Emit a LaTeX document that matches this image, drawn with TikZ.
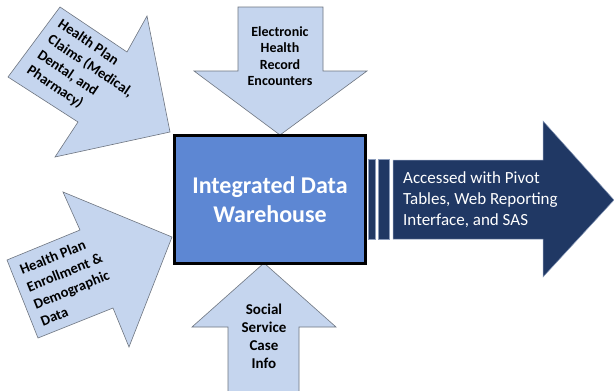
\documentclass[tikz,border=0pt]{standalone}
\usepackage{fontspec}
\setmainfont{Carlito}
\begin{document}
\begin{tikzpicture}[x=1pt,y=-1pt,
  inarrow/.style={fill=lightblue,draw=edgegray,line width=0.6pt,line join=miter},
  intext/.style={font=\bfseries\fontsize{14}{16.5}\selectfont,align=center,text=black,inner sep=0pt},
  slanttext/.style={font=\bfseries\fontsize{14.5}{18.5}\selectfont,align=left,text=black,inner sep=0pt}]
\definecolor{lightblue}{HTML}{C5D5EE}
\definecolor{edgegray}{HTML}{6E7580}
\definecolor{boxblue}{HTML}{5D87D3}
\definecolor{navy}{HTML}{203864}
\definecolor{baredge}{HTML}{8A9BBA}
\useasboundingbox (0,0) rectangle (614,391);
\fill[white] (0,0) rectangle (614,391);
% top-left arrow
\draw[inarrow] (60,7) -- (127,52) -- (147,16) -- (170,132) -- (55,157) -- (78,122) -- (8,77) -- cycle;
\node[slanttext,rotate=-34] (claims) at (85,74) {Health Plan\\Claims (Medical,\\Dental, and\\Pharmacy)};
% bottom-left arrow
\draw[inarrow] (7,260) -- (80,230) -- (63,192) -- (172,237) -- (129,347) -- (113,308) -- (38,338) -- cycle;
\node[slanttext,rotate=22] (enroll) at (68,281) {Health Plan\\Enrollment \&\\Demographic\\Data};
% top arrow
\draw[inarrow] (238,7) -- (323,7) -- (323,71) -- (367,71) -- (280,135) -- (194,71) -- (238,71) -- cycle;
\node[intext] (ehr) at (280,56) {Electronic\\Health\\Record\\Encounters};
% bottom arrow
\draw[inarrow] (228,393) -- (228,327) -- (192,327) -- (264,263) -- (336,327) -- (299,327) -- (299,393) -- cycle;
\node[intext,font=\bfseries\fontsize{15}{18}\selectfont] (social) at (264,336) {Social\\Service\\Case\\Info};
% central box
\node[draw=black,line width=3pt,fill=boxblue,minimum width=191pt,minimum height=128pt,inner sep=0pt,
  font=\bfseries\fontsize{24}{29}\selectfont,text=white,align=center] (idw) at (270,199.5) {Integrated Data\\Warehouse};
% bars
\draw[fill=navy,draw=baredge,line width=0.5pt] (368.5,159.5) rectangle (375,239);
\draw[fill=navy,draw=baredge,line width=0.5pt] (378,159.5) rectangle (389,239);
% output arrow
\draw[fill=navy,draw=baredge,line width=0.5pt] (393,160) -- (543,160) -- (543,121) -- (614,200) -- (543,277) -- (543,239) -- (393,239) -- cycle;
\node[font=\fontsize{17}{21}\selectfont,text=white,align=left,anchor=west,inner sep=0pt] (out) at (403,200) {Accessed with Pivot\\Tables, Web Reporting\\Interface, and SAS};
\end{tikzpicture}
\end{document}
